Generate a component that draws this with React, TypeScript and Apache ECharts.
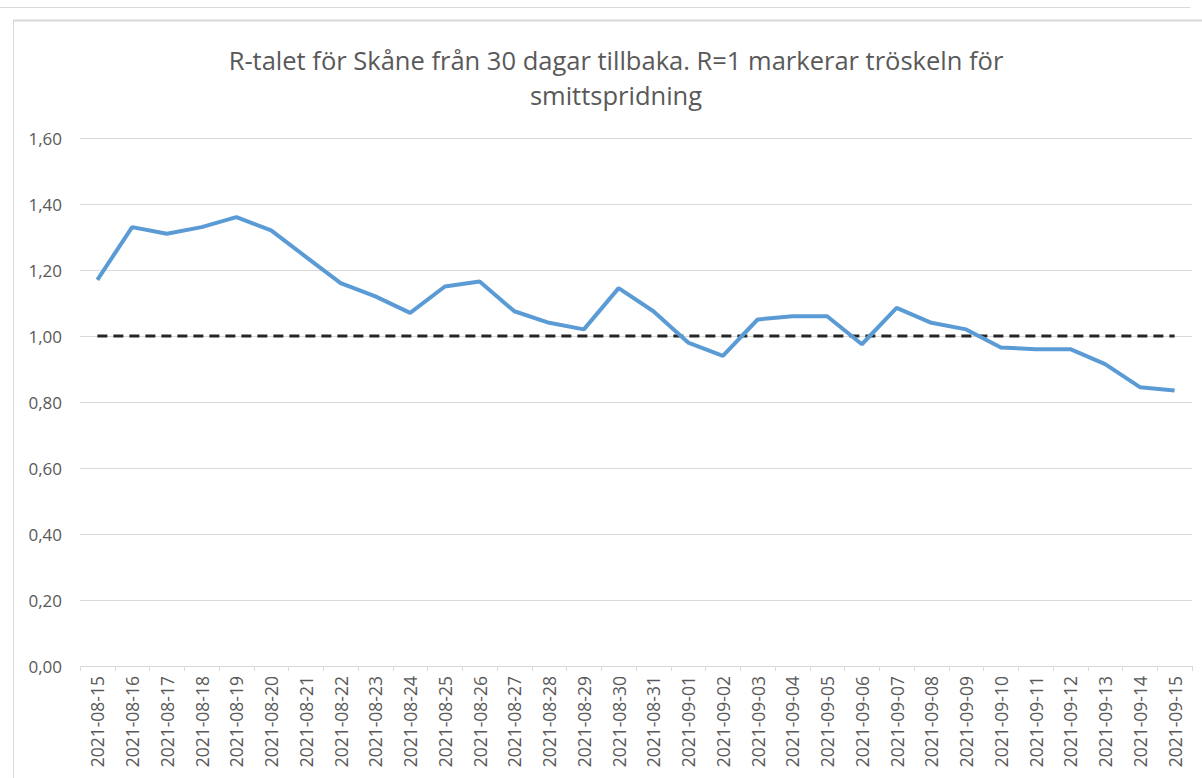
import React, { useEffect, useRef } from "react";
import * as echarts from "echarts";

const categories: string[] = [
  "2021-08-15", "2021-08-16", "2021-08-17", "2021-08-18", "2021-08-19", "2021-08-20",
  "2021-08-21", "2021-08-22", "2021-08-23", "2021-08-24", "2021-08-25", "2021-08-26",
  "2021-08-27", "2021-08-28", "2021-08-29", "2021-08-30", "2021-08-31", "2021-09-01",
  "2021-09-02", "2021-09-03", "2021-09-04", "2021-09-05", "2021-09-06", "2021-09-07",
  "2021-09-08", "2021-09-09", "2021-09-10", "2021-09-11", "2021-09-12", "2021-09-13",
  "2021-09-14", "2021-09-15",
];

const rValues: number[] = [
  1.17, 1.33, 1.31, 1.33, 1.36, 1.32,
  1.24, 1.16, 1.12, 1.07, 1.15, 1.165,
  1.075, 1.04, 1.02, 1.145, 1.075, 0.98,
  0.94, 1.05, 1.06, 1.06, 0.975, 1.085,
  1.04, 1.02, 0.965, 0.96, 0.96, 0.915,
  0.845, 0.835,
];

const thresholdValues: number[] = categories.map(() => 1.0);

const titleText = "R-talet för Skåne från 30 dagar tillbaka. R=1 markerar tröskeln för\nsmittspridning";

export default function App() {
  const ref = useRef<HTMLDivElement>(null);
  useEffect(() => {
    if (!ref.current) return;
    const chart = echarts.init(ref.current, null, { renderer: "svg" });
    const font = "'Open Sans', sans-serif";
    chart.setOption({
      animation: false,
      backgroundColor: "#ffffff",
      title: {
        text: titleText,
        left: 611,
        top: 37,
        textAlign: "center",
        textStyle: {
          fontFamily: font,
          fontSize: 25.5,
          fontWeight: "normal",
          color: "#595959",
          lineHeight: 35,
        },
      },
      graphic: [
        { type: "line", shape: { x1: 0, y1: 7.5, x2: 1190, y2: 7.5 }, style: { stroke: "#d9d9d9", lineWidth: 1 } },
        { type: "line", shape: { x1: 13, y1: 20.5, x2: 1202, y2: 20.5 }, style: { stroke: "#d9d9d9", lineWidth: 2 } },
        { type: "line", shape: { x1: 13.5, y1: 20, x2: 13.5, y2: 778 }, style: { stroke: "#d9d9d9", lineWidth: 1 } },
      ],
      grid: { left: 80, right: 10, top: 138, bottom: 112, containLabel: false },
      xAxis: {
        type: "category",
        data: categories,
        boundaryGap: true,
        axisLine: { lineStyle: { color: "#d9d9d9", width: 1 } },
        axisTick: { show: true, length: 5, lineStyle: { color: "#d9d9d9" } },
        axisLabel: {
          rotate: 90,
          interval: 0,
          margin: 10,
          fontFamily: font,
          fontSize: 17.5,
          color: "#595959",
        },
      },
      yAxis: {
        type: "value",
        min: 0,
        max: 1.6,
        interval: 0.2,
        axisLine: { show: false },
        axisTick: { show: false },
        splitLine: { lineStyle: { color: "#d9d9d9", width: 1 } },
        axisLabel: {
          margin: 18,
          fontFamily: font,
          fontSize: 17,
          color: "#595959",
          formatter: (v: number) => v.toFixed(2).replace(".", ","),
        },
      },
      series: [
        {
          name: "R=1",
          type: "line",
          data: thresholdValues,
          symbol: "none",
          lineStyle: { color: "#262626", width: 3, type: [10, 6] },
          z: 2,
        },
        {
          name: "R-tal",
          type: "line",
          data: rValues,
          symbol: "none",
          lineStyle: { color: "#5b9bd5", width: 4 },
          z: 3,
        },
      ],
    });
    return () => chart.dispose();
  }, []);
  return (
    <div
      ref={ref}
      style={{ position: "absolute", left: 0, top: 0, width: 1202, height: 778 }}
    />
  );
}
